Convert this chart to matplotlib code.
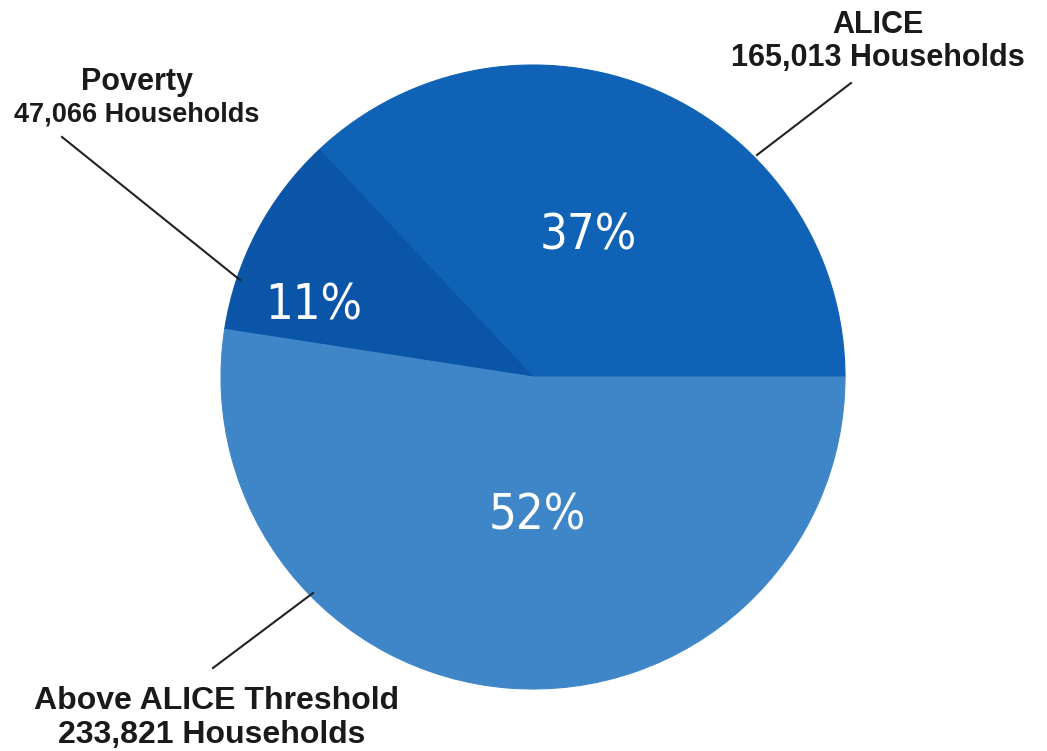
import matplotlib
matplotlib.use("Agg")
import matplotlib.pyplot as plt
from matplotlib import font_manager

# ---- data ----
categories = ["ALICE", "Poverty", "Above ALICE Threshold"]
households = [165013, 47066, 233821]
count_labels = ["165,013 Households", "47,066 Households", "233,821 Households"]
colors = ["#0f62b6", "#0a55a7", "#3f86c8"]

names = {f.name for f in font_manager.fontManager.ttflist}
if "Liberation Sans Narrow" in names:
    pct_font = dict(family="Liberation Sans Narrow", fontstretch="normal")
else:
    pct_font = dict(family="DejaVu Sans", fontstretch="condensed")

W, H = 1047, 751
fig = plt.figure(figsize=(W / 100, H / 100), dpi=100)
fig.patch.set_facecolor("white")
ax = fig.add_axes([0, 0, 1, 1])

cx, cy, R = 533, 751 - 377, 312
wedges, texts, autotexts = ax.pie(
    households, colors=colors, startangle=0, counterclock=True,
    center=(cx, cy), radius=R, autopct="%.0f%%", pctdistance=0.5,
    wedgeprops=dict(linewidth=0.8), textprops=dict(color="white"))
for w, c in zip(wedges, colors):
    w.set_edgecolor(c)
ax.set_xlim(0, W)
ax.set_ylim(0, H)
ax.set_aspect("equal")
ax.axis("off")

pct_pos = [(588, 751 - 235), (314, 751 - 306), (537, 751 - 516)]
for t, p in zip(autotexts, pct_pos):
    t.set_position(p)
    t.set_fontsize(35)
    t.set_fontfamily(pct_font["family"])
    t.set_fontstretch(pct_font["fontstretch"])
    t.set_ha("center")
    t.set_va("center")

lab = dict(ha="center", va="center", fontweight="bold", color="#1a1a1a",
           family="Liberation Sans")

# ALICE
ax.text(878, 751 - 25, categories[0], fontsize=22, **lab)
ax.text(878, 751 - 58, count_labels[0], fontsize=22, **lab)
ax.plot([757, 851], [751 - 155, 751 - 83], color="#222222", lw=1.5)

# Poverty
ax.text(137, 751 - 82, categories[1], fontsize=22, **lab)
ax.text(137, 751 - 114, count_labels[1], fontsize=19.5, **lab)
ax.plot([240, 62], [751 - 280, 751 - 137], color="#222222", lw=1.5)

# Above ALICE
ax.text(216, 751 - 701, categories[2], fontsize=23, **lab)
ax.text(212, 751 - 735, count_labels[2], fontsize=23, **lab)
ax.plot([313, 213], [751 - 593, 751 - 668], color="#222222", lw=1.5)

fig.savefig("out.png", dpi=100, facecolor="white")
